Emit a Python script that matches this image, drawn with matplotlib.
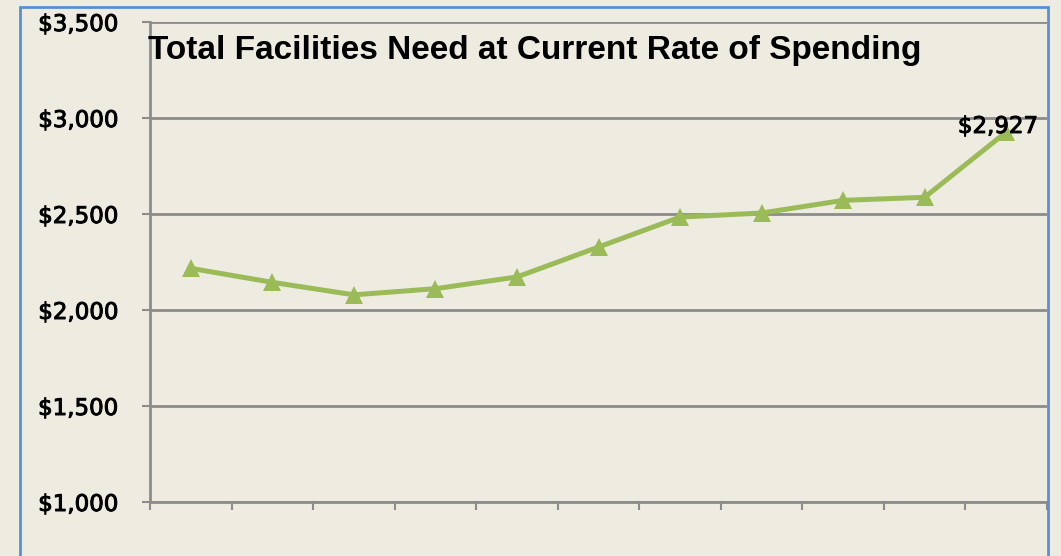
import matplotlib
matplotlib.use("Agg")
import matplotlib.pyplot as plt
import matplotlib.patheffects as pe
from matplotlib.patches import Rectangle
from matplotlib.ticker import FuncFormatter
import numpy as np

# (11 periods, $ millions)
periods = list(range(11))
total_need = [2217, 2144, 2079, 2111, 2172, 2328, 2484, 2505, 2571, 2587, 2927]
y_ticks = [1000, 1500, 2000, 2500, 3000, 3500]
title = "Total Facilities Need at Current Rate of Spending"

BG = "#EEEBE0"
GRID = "#8C8C8C"
GREEN = "#9BBB59"
LABEL_FONT = ["DejaVu Sans"]
HEAVY = [pe.withStroke(linewidth=0.7, foreground="black")]

fig = plt.figure(figsize=(10.61, 5.56), dpi=100, facecolor=BG)
ax = fig.add_axes([150 / 1061, 54 / 556, 897 / 1061, 480 / 556])
ax.set_facecolor(BG)

ax.plot(periods, total_need, color=GREEN, lw=3.6, marker="^", ms=13,
        markeredgewidth=0, solid_joinstyle="round", zorder=3, clip_on=False)

ax.set_xlim(-0.5, len(periods) - 0.5)
ax.set_ylim(y_ticks[0], y_ticks[-1])
ax.set_yticks(y_ticks)
ax.yaxis.set_major_formatter(FuncFormatter(lambda v, _: f"${v:,.0f}"))
ax.set_xticks(np.arange(-0.5, len(periods), 1.0))
ax.set_xticklabels([])
ax.grid(axis="y", color=GRID, lw=2)
ax.set_axisbelow(True)

for side in ["top", "right"]:
    ax.spines[side].set_visible(False)
for side in ["left", "bottom"]:
    ax.spines[side].set_color(GRID)
    ax.spines[side].set_linewidth(2)

ax.tick_params(axis="y", length=6, width=1.5, color=GRID, pad=17,
               labelsize=16.5, labelcolor="black")
ax.tick_params(axis="x", length=6, width=1.5, color=GRID)
for lab in ax.get_yticklabels():
    lab.set_fontfamily(LABEL_FONT)
    lab.set_path_effects(HEAVY)

ax.annotate(f"${total_need[-1]:,}", (periods[-1], total_need[-1]),
            xytext=(-6, 4), textcoords="offset points", ha="center", va="center",
            fontsize=16.5, family=LABEL_FONT, path_effects=HEAVY)

fig.text(148 / 1061, 1 - 50 / 556, title, ha="left", va="center",
         fontsize=24, fontweight="bold",
         family=["Liberation Sans", "DejaVu Sans"])

# selection frame around the chart object
fig.add_artist(Rectangle((19.5 / 1061, -0.05), (1048 - 19.5) / 1061, 1.05 - 6.5 / 556,
                         transform=fig.transFigure, fill=False,
                         edgecolor="#5B8ED8", lw=2))

fig.savefig("out.png", dpi=100, facecolor=BG)
